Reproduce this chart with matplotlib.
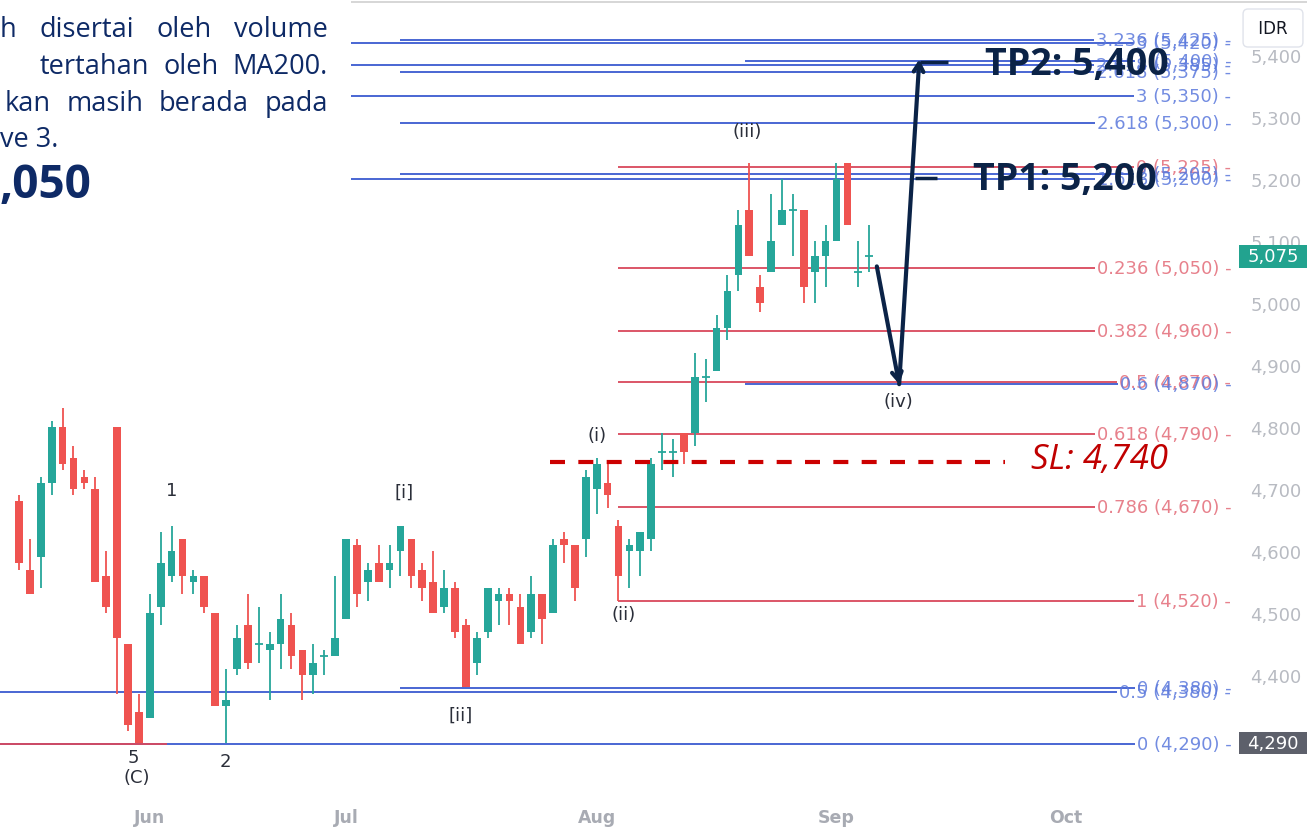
import matplotlib
matplotlib.use('Agg')
import matplotlib.pyplot as plt
from matplotlib.transforms import blended_transform_factory
from matplotlib.patches import Rectangle
from matplotlib.lines import Line2D

W, H = 1307, 828

# daily candles, June - early September
opens = [4680, 4570, 4590, 4710, 4800, 4750, 4720, 4700, 4560, 4800,
         4450, 4340, 4330, 4510, 4560, 4620, 4550, 4560, 4500, 4350,
         4410, 4480, 4450, 4440, 4450, 4480, 4440, 4400, 4430, 4430,
         4490, 4610, 4550, 4580, 4570, 4600, 4620, 4570, 4550, 4510,
         4540, 4480, 4420, 4470, 4520, 4530, 4510, 4470, 4530, 4500,
         4620, 4610, 4620, 4700, 4710, 4640, 4600, 4600, 4620, 4760,
         4760, 4790, 4790, 4880, 4890, 4960, 5045, 5150, 5025, 5050,
         5125, 5150, 5150, 5050, 5075, 5100, 5225, 5050, 5075]
highs = [4690, 4620, 4720, 4810, 4830, 4770, 4730, 4720, 4600, 4800,
         4450, 4370, 4530, 4630, 4640, 4620, 4570, 4560, 4500, 4410,
         4480, 4530, 4510, 4470, 4530, 4500, 4440, 4450, 4440, 4560,
         4620, 4620, 4580, 4610, 4610, 4640, 4620, 4580, 4600, 4570,
         4550, 4490, 4470, 4540, 4540, 4540, 4530, 4560, 4530, 4620,
         4630, 4610, 4730, 4750, 4740, 4650, 4620, 4630, 4750, 4790,
         4780, 4790, 4920, 4910, 4980, 5045, 5150, 5225, 5045, 5175,
         5200, 5175, 5150, 5100, 5125, 5225, 5225, 5100, 5125]
lows = [4570, 4530, 4540, 4690, 4730, 4690, 4700, 4550, 4500, 4370,
        4310, 4290, 4330, 4480, 4550, 4530, 4530, 4500, 4350, 4290,
        4400, 4410, 4420, 4360, 4410, 4410, 4360, 4370, 4400, 4430,
        4490, 4510, 4520, 4550, 4540, 4560, 4540, 4520, 4500, 4500,
        4460, 4380, 4400, 4460, 4480, 4480, 4450, 4460, 4450, 4500,
        4580, 4520, 4590, 4660, 4670, 4520, 4540, 4560, 4600, 4730,
        4720, 4740, 4770, 4840, 4890, 4940, 5020, 5075, 4985, 5050,
        5125, 5075, 5000, 5000, 5025, 5100, 5125, 5025, 5050]
closes = [4580, 4530, 4710, 4800, 4740, 4700, 4710, 4550, 4510, 4460,
          4320, 4290, 4500, 4580, 4600, 4560, 4560, 4510, 4350, 4360,
          4460, 4420, 4450, 4450, 4490, 4430, 4400, 4420, 4430, 4460,
          4620, 4530, 4570, 4550, 4580, 4640, 4560, 4540, 4500, 4540,
          4470, 4380, 4460, 4540, 4530, 4520, 4450, 4530, 4490, 4610,
          4610, 4540, 4720, 4740, 4690, 4560, 4610, 4630, 4740, 4760,
          4760, 4760, 4880, 4880, 4960, 5020, 5125, 5075, 5000, 5100,
          5150, 5150, 5025, 5075, 5100, 5200, 5125, 5050, 5075]

month_pos = [12, 30, 53, 75, 96]
month_labels = ['Jun', 'Jul', 'Aug', 'Sep', 'Oct']
price_ticks = list(range(4300, 5401, 100))

# fibonacci levels drawn on the chart (start None = from the left edge)
fib_prices = [5424, 5419, 5390, 5384, 5373, 5334, 5290, 5219, 5208, 5200,
              5056, 4954, 4872, 4869, 4789, 4671, 4520, 4379, 4373, 4289]
fib_labels = ['3.236 (5,425)', '3 (5,420)', '1 (5,400)', '2.618 (5,385)',
              '2.618 (5,375)', '3 (5,350)', '2.618 (5,300)', '0 (5,225)',
              '2 (5,205)', '1.618 (5,200)', '0.236 (5,050)', '0.382 (4,960)',
              '0.5 (4,870)', '0.6 (4,870)', '0.618 (4,790)', '0.786 (4,670)',
              '1 (4,520)', '0 (4,380)', '0.5 (4,380)', '0 (4,290)']
fib_starts = [35, None, 66.6, None, 35, None, 35, 55, 35, None,
              55, 55, 55, 66.6, 55, 55, 55, 35, None, None]
fib_kind = ['b', 'b', 'b', 'b', 'b', 'b', 'b', 'r', 'b', 'b',
            'r', 'r', 'r', 'b', 'r', 'r', 'r', 'b', 'b', 'b']

wave_text = ['1', '5', '(C)', '2', '[i]', '[ii]', '(i)', '(ii)', '(iii)', '(iv)']
wave_at = [(14.0, 4698), (10.5, 4268), (10.8, 4236), (18.9, 4261),
           (35.3, 4695), (40.5, 4335), (53.0, 4787), (55.5, 4498),
           (66.8, 5277), (80.7, 4842)]

last_price = 5075
low_price = 4290
sl_price = 4740

UP = '#26a69a'
DOWN = '#ef5350'
NAVY = '#0b2347'
LINE_COL = {'r': '#d9485c', 'b': '#3a5ad0'}
LABEL_COL = {'r': '#e36b78', 'b': '#5a78dc'}

fig = plt.figure(figsize=(W / 100, H / 100), dpi=100)
fig.patch.set_facecolor('white')
ax = fig.add_axes([0, 31 / H, 1235 / W, 794 / H])
ax.set_xlim(-1.743, 111.56)
ax.set_ylim(4204.7, 5485.5)
for s in ax.spines.values():
    s.set_visible(False)

# candles
for i in range(len(opens)):
    o, h, l, c = opens[i], highs[i], lows[i], closes[i]
    col = UP if c >= o else DOWN
    ax.vlines(i, l, h, color=col, lw=1.3, zorder=3)
    if c == o:
        ax.hlines(o, i - 0.35, i + 0.35, color=col, lw=1.3, zorder=3)
    else:
        ax.bar(i, abs(c - o), bottom=min(o, c), width=0.7, color=col,
               lw=0, zorder=3)

# axes ticks
ax.yaxis.tick_right()
ax.set_yticks(price_ticks)
ax.set_yticklabels(['{:,}'.format(p) for p in price_ticks])
ax.tick_params(axis='y', length=0, pad=11, labelsize=13, labelcolor='#b8bbc2')
ax.set_xticks(month_pos)
ax.set_xticklabels(month_labels)
ax.tick_params(axis='x', length=0, pad=9, labelsize=12.5, labelcolor='#a8abb3')
for t in ax.get_xticklabels():
    t.set_fontweight('bold')

trans = blended_transform_factory(ax.transAxes, ax.transData)

# fib labels first, then lines up to the label
fib_texts = []
for p, lab, k in zip(fib_prices, fib_labels, fib_kind):
    t = ax.text(0.997, p, lab + ' -', transform=trans, ha='right',
                va='center', fontsize=13, color=LABEL_COL[k], alpha=0.85,
                zorder=4)
    fib_texts.append(t)

fig.canvas.draw()
r = fig.canvas.get_renderer()
inv = ax.transData.inverted()
x_left = ax.get_xlim()[0]
for p, st, k, t in zip(fib_prices, fib_starts, fib_kind, fib_texts):
    bb = t.get_window_extent(r)
    x_end = inv.transform((bb.x0 - 2, 0))[0]
    x0 = x_left if st is None else st
    ax.hlines(p, x0, x_end, color=LINE_COL[k], lw=1.3, zorder=2)
ax.hlines(low_price - 1, x_left, 13.6, color=LINE_COL['r'], lw=1.3, zorder=2)

# wave counts
for txt, (wx, wy) in zip(wave_text, wave_at):
    ax.text(wx, wy, txt, ha='center', va='center', fontsize=13,
            color='#2a2e39', zorder=5)

# projected path
arrow = dict(arrowstyle='->,head_length=0.6,head_width=0.35', color=NAVY,
             lw=3, shrinkA=0, shrinkB=0)
ax.annotate('', xy=(80.75, 4869), xytext=(78.7, 5059), arrowprops=arrow,
            zorder=6)
ax.annotate('', xy=(82.6, 5393), xytext=(80.75, 4869), arrowprops=arrow,
            zorder=6)
ax.hlines(5389, 82.7, 85.2, color=NAVY, lw=2.5, zorder=6)
ax.hlines(5202, 82.2, 84.2, color=NAVY, lw=2.5, zorder=6)
ax.text(88.6, 5385, 'TP2: 5,400', fontsize=27, fontweight='bold',
        family='Open Sans', color=NAVY, va='center', ha='left', zorder=7)
ax.text(87.5, 5200, 'TP1: 5,200', fontsize=27, fontweight='bold',
        family='Open Sans', color=NAVY, va='center', ha='left', zorder=7)

# stop loss
ax.plot([48.7, 90.5], [sl_price + 3, sl_price + 3], color='#cc0000', lw=3,
        dashes=(3.6, 3.2), zorder=6)
ax.text(92.8, sl_price + 8, 'SL: 4,740', fontsize=25, fontstyle='italic',
        family='Open Sans', color='#c00000', va='center', ha='left', zorder=7)

# price badges on the axis
for p, fc in [(last_price, '#22a38f'), (low_price, '#5d606b')]:
    ax.add_patch(Rectangle((1.003, p - 18), 0.06, 36, transform=trans,
                           fc=fc, ec='none', clip_on=False, zorder=8))
    ax.text(1.031, p, '{:,}'.format(p), transform=trans, ha='center',
            va='center', fontsize=13, color='white', zorder=9, clip_on=False)

fig.text(1273 / W, 1 - 29 / H, ' IDR ', ha='center', va='center', fontsize=12,
         color='#131722',
         bbox=dict(boxstyle='round,pad=0.6,rounding_size=0.3', fc='white',
                   ec='#e0e3eb'))

fig.add_artist(Line2D([0, 1], [1 - 3 / H, 1 - 3 / H], color='#cfcfcf', lw=1.2,
                      transform=fig.transFigure))

# text box at the top left
fig.add_artist(Rectangle((0, 1 - 215 / H), 351 / W, 215 / H,
                         transform=fig.transFigure, fc='white', ec='none',
                         zorder=10))
BOX_COL = '#0e2a66'
BOX_SIZE = 19.5


def justify(words, x0, x1, y):
    texts = [fig.text(0, 1 - y / H, w, fontsize=BOX_SIZE, family='Open Sans',
                      color=BOX_COL, va='center', ha='left', zorder=11)
             for w in words]
    widths = [t.get_window_extent(r).width for t in texts]
    gap = (x1 - x0 - sum(widths)) / (len(words) - 1)
    x = x0
    for t, w in zip(texts, widths):
        t.set_x(x / W)
        x += w + gap


justify(['h', 'disertai', 'oleh', 'volume'], 0, 328, 30)
justify(['tertahan', 'oleh', 'MA200.'], 40, 328, 67)
justify(['kan', 'masih', 'berada', 'pada'], 5, 328, 104)
fig.text(0, 1 - 140 / H, 've 3.', fontsize=BOX_SIZE, family='Open Sans',
         color=BOX_COL, va='center', ha='left', zorder=11)
fig.text(0, 1 - 185 / H, ',050', fontsize=33, fontweight='bold',
         family='Open Sans', color=BOX_COL, va='center', ha='left', zorder=11)

fig.savefig('out.png', dpi=100, facecolor='white')
